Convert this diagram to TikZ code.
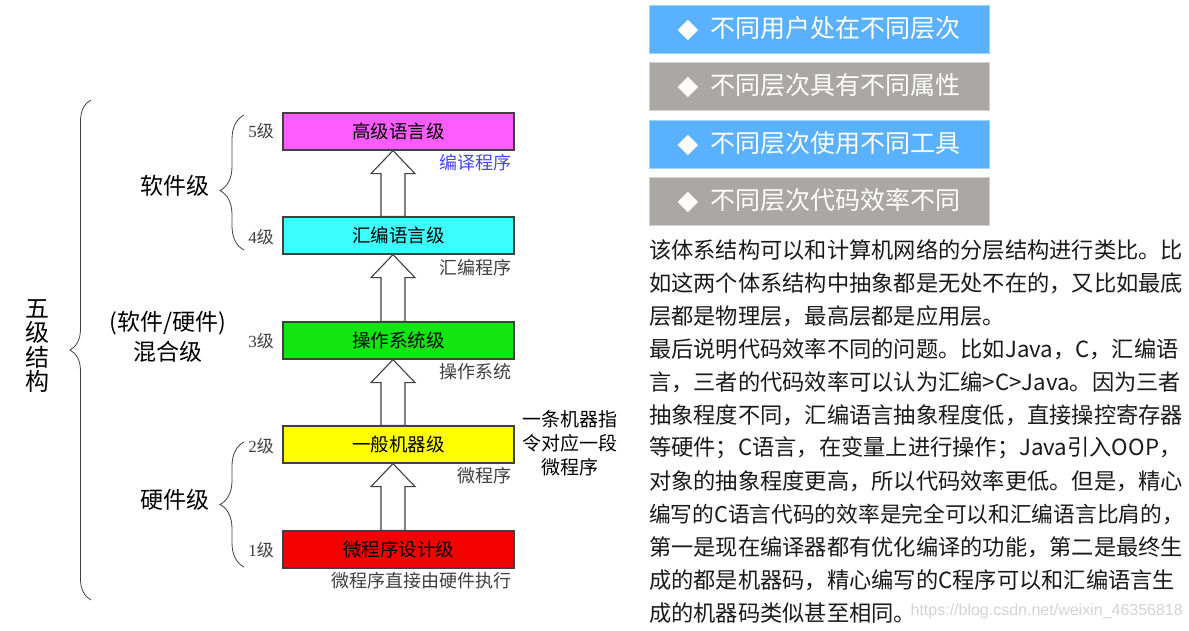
\documentclass[tikz,border=0pt]{standalone}
\usepackage{fontspec}
\setmainfont{Noto Sans CJK SC}
\newfontfamily\dvfont{DejaVu Sans}
\newfontfamily\lsfont{Liberation Sans}
\newfontfamily\lserif{Liberation Serif}
\usetikzlibrary{decorations.pathreplacing,calc}
\definecolor{boxline}{HTML}{404040}
\definecolor{cmag}{HTML}{FF5CFF}
\definecolor{ccyan}{HTML}{3CFFFF}
\definecolor{cgreen}{HTML}{11E611}
\definecolor{cyellow}{HTML}{FFFF00}
\definecolor{cred}{HTML}{F40000}
\definecolor{labgray}{HTML}{404040}
\definecolor{labblue}{HTML}{4646FF}
\definecolor{tblue}{HTML}{5AB1FF}
\definecolor{tbluel}{HTML}{A0D2FF}
\definecolor{tgray}{HTML}{ABA7A5}
\definecolor{tgrayl}{HTML}{D2D0CF}
\definecolor{ptext}{HTML}{1A1A1A}
\definecolor{wmark}{HTML}{D4D4D4}
\newcommand\blkarrow[2]{%
 \draw[arrowline] let \p1=(#1.south), \p2=(#2.north) in
  (\x1-5.5pt,\y1) -- (\x1+16.5pt,\y1-23pt) -- (\x1+6.5pt,\y1-23pt) -- (\x1+6.5pt,\y2)
  -- (\x1-17.5pt,\y2) -- (\x1-17.5pt,\y1-23pt) -- (\x1-27.5pt,\y1-23pt) -- cycle;}
\newcommand\dia{{\dvfont\fontsize{27}{27}\selectfont ◆}\hspace{12pt}}
\begin{document}
\begin{tikzpicture}[x=1pt,y=-1pt,
  lvl/.style={draw=boxline, line width=1.2pt, minimum width=231pt, minimum height=37pt, inner sep=0pt, font=\fontsize{18.5}{20}\selectfont, text=black},
  num/.style={font=\fontsize{17}{19}\selectfont, text=labgray, inner sep=0pt},
  side/.style={anchor=east, font=\fontsize{18}{20}\selectfont, text=labgray, inner sep=0pt},
  arrowline/.style={draw=boxline, line width=1.1pt, fill=white, line join=miter},
  bracestyle/.style={draw=boxline, line width=0.8pt, decorate},
  grp/.style={font=\fontsize{23}{30}\selectfont, text=black, align=center, inner sep=0pt},
  tag/.style={minimum width=340pt, minimum height=48pt, inner sep=0pt, line width=1pt, text=white, font=\fontsize{25}{27}\selectfont},
  para/.style={anchor=west, inner sep=0pt, text=ptext, font=\fontsize{22.25}{24}\selectfont}]
\useasboundingbox (0,0) rectangle (1189,630);
\fill[white] (0,0) rectangle (1189,630);

% level boxes
\node[lvl, fill=cmag]    (b5) at (398.5,131.5) {高级语言级};
\node[lvl, fill=ccyan]   (b4) at (398.5,235.5) {汇编语言级};
\node[lvl, fill=cgreen]  (b3) at (398.5,340.5) {操作系统级};
\node[lvl, fill=cyellow] (b2) at (398.5,444.5) {一般机器级};
\node[lvl, fill=cred]    (b1) at (398.5,549.5) {微程序设计级};

\blkarrow{b5}{b4}
\blkarrow{b4}{b3}
\blkarrow{b3}{b2}
\blkarrow{b2}{b1}

% level numbers
\node[num] (n5) at (261,131.5) {{\lserif 5}级};
\node[num] (n4) at (261,237) {{\lserif 4}级};
\node[num] (n3) at (261,341) {{\lserif 3}级};
\node[num] (n2) at (261,446) {{\lserif 2}级};
\node[num] (n1) at (261,550) {{\lserif 1}级};

% side labels
\node[side, text=labblue] (s5) at (512,163) {编译程序};
\node[side] (s4) at (512,268) {汇编程序};
\node[side] (s3) at (512,372) {操作系统};
\node[side] (s2) at (512,476) {微程序};
\node[side] (s1) at (512,581) {微程序直接由硬件执行};

% braces
\coordinate (bigB) at (91,600); \coordinate (bigT) at (91,100);
\draw[bracestyle, decoration={brace, amplitude=21pt}] (bigB) -- (bigT);
\coordinate (swB) at (244,250); \coordinate (swT) at (244,115);
\draw[bracestyle, decoration={brace, amplitude=24pt, aspect=0.44}] (swB) -- (swT);
\coordinate (hwB) at (244,567); \coordinate (hwT) at (244,442);
\draw[bracestyle, decoration={brace, amplitude=24pt, aspect=0.5}] (hwB) -- (hwT);

% group labels
\node[grp, font=\fontsize{24}{24.5}\selectfont] (five) at (37,346) {五\\级\\结\\构};
\node[grp] (sw) at (175,186) {软件级};
\node[grp] (mix) at (168,337) {(软件/硬件)\\混合级};
\node[grp] (hw) at (175,500) {硬件级};

% note
\node[align=center, inner sep=0pt, font=\fontsize{19}{24}\selectfont, text=black] (note) at (570,443) {一条机器指\\令对应一段\\微程序};

% tags
\node[tag, fill=tblue, draw=tbluel] (t1) at (819,29) {\dia 不同用户处在不同层次};
\node[tag, fill=tgray, draw=tgrayl] (t2) at (819,86) {\dia 不同层次具有不同属性};
\node[tag, fill=tblue, draw=tbluel] (t3) at (819,144) {\dia 不同层次使用不同工具};
\node[tag, fill=tgray, draw=tgrayl] (t4) at (819,201) {\dia 不同层次代码效率不同};

% paragraph
\node[para] (p1) at (649,250) {该体系结构可以和计算机网络的分层结构进行类比。比};
\node[para] (p2) at (649,283) {如这两个体系结构中抽象都是无处不在的，又比如最底};
\node[para] (p3) at (649,316) {层都是物理层，最高层都是应用层。};
\node[para] (p4) at (649,349) {最后说明代码效率不同的问题。比如Java，C，汇编语};
\node[para] (p5) at (649,382) {言，三者的代码效率可以认为汇编>C>Java。因为三者};
\node[para] (p6) at (649,415) {抽象程度不同，汇编语言抽象程度低，直接操控寄存器};
\node[para] (p7) at (649,448) {等硬件；C语言，在变量上进行操作；Java引入OOP，};
\node[para] (p8) at (649,481) {对象的抽象程度更高，所以代码效率更低。但是，精心};
\node[para, font=\fontsize{21.7}{24}\selectfont] (p9) at (649,514) {编写的C语言代码的效率是完全可以和汇编语言比肩的，};
\node[para] (p10) at (649,547) {第一是现在编译器都有优化编译的功能，第二是最终生};
\node[para] (p11) at (649,580) {成的都是机器码，精心编写的C程序可以和汇编语言生};
\node[para] (p12) at (649,613) {成的机器码类似甚至相同。};
\node[anchor=east, inner sep=0pt, text=wmark, font=\lsfont\fontsize{16}{18}\selectfont] (wm) at (1183,611) {https://blog.csdn.net/weixin\_46356818};
\end{tikzpicture}
\end{document}
